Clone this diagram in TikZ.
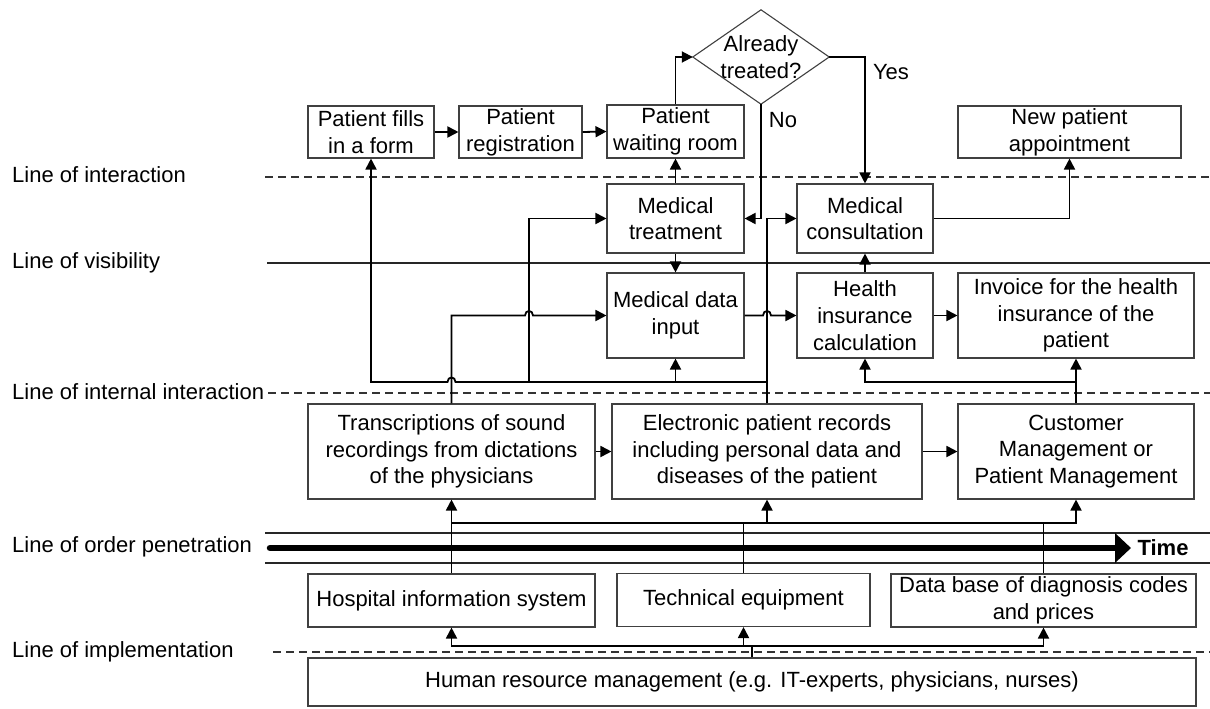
\documentclass[tikz,border=0pt]{standalone}
\usepackage{fontspec}
\setmainfont{Liberation Sans}
\usetikzlibrary{arrows.meta,calc}
\tikzset{
  box/.style={draw=black!75, line width=1.1pt, fill=white, inner sep=0pt, align=center},
  conn/.style={line width=1.8pt, black},
  arr/.style={conn, -{Triangle[length=11pt,width=11pt]}},
  dashline/.style={draw=black!80, line width=1.2pt, dash pattern=on 8pt off 5pt},
  thinline/.style={draw=black!85, line width=1.2pt},
  lab/.style={anchor=west, inner sep=0pt},
}
\begin{document}
\begin{tikzpicture}[x=1pt,y=-1pt,font=\fontsize{22}{26.7}\selectfont]
\useasboundingbox (0,0) rectangle (1210,709);

% layer lines
\draw[dashline] (265,177) -- (1210,177);
\draw[thinline] (267,263) -- (1210,263);
\draw[dashline] (268,393) -- (1210,393);
\draw[thinline] (265,533) -- (1210,533);
\draw[thinline] (265,563) -- (1210,563);
\draw[dashline] (273,652) -- (1210,652);
\draw[line width=6.5pt, line cap=round, -{Triangle[length=16pt,width=29pt]}] (270,548) -- (1131,548);
\node[font=\fontsize{22}{26.7}\selectfont\bfseries, inner sep=0pt] (time) at (1163,548) {Time};

% left labels
\node[lab] (l1) at (12,175) {Line of interaction};
\node[lab] (l2) at (12,263) {Line of visibility};
\node[lab] (l3) at (12,392) {Line of internal interaction};
\node[lab] (l4) at (12,547) {Line of order penetration};
\node[lab] (l5) at (12,652) {Line of implementation};

% boxes
\node[box, minimum width=126pt, minimum height=52pt] (fill) at (371,132) {Patient fills\\in a form};
\node[box, minimum width=123pt, minimum height=52pt] (reg) at (520.5,132) {Patient\\registration};
\node[box, minimum width=137pt, minimum height=53pt] (wait) at (675.5,131.5) {Patient\\waiting room};
\node[box, minimum width=223pt, minimum height=52pt] (appt) at (1069.5,132) {New patient\\appointment};
\node[inner sep=0pt, align=center, minimum width=136pt, minimum height=94pt] (dia) at (761,57) {Already\\treated?};
\draw[draw=black!75, line width=1.1pt] (dia.west) -- (dia.north) -- (dia.east) -- (dia.south) -- cycle;

\node[box, minimum width=137pt, minimum height=69pt] (treat) at (675.5,218.5) {Medical\\treatment};
\node[box, minimum width=136pt, minimum height=69pt] (consult) at (865,218.5) {Medical\\consultation};
\node[box, minimum width=137pt, minimum height=85pt] (input) at (675.5,315.5) {Medical data\\input};
\node[box, minimum width=136pt, minimum height=85pt] (calc) at (865,315.5) {Health\\insurance\\calculation};
\node[box, minimum width=236pt, minimum height=85pt] (invoice) at (1076,315.5) {Invoice for the health\\insurance of the\\patient};

\node[box, minimum width=287pt, minimum height=95pt] (trans) at (451.5,451.5) {Transcriptions of sound\\recordings from dictations\\of the physicians};
\node[box, minimum width=310pt, minimum height=95pt] (epr) at (767,451.5) {Electronic patient records\\including personal data and\\diseases of the patient};
\node[box, minimum width=236pt, minimum height=95pt] (cust) at (1076,451.5) {Customer\\Management or\\Patient Management};

\node[box, minimum width=287pt, minimum height=53pt] (his) at (451.5,600.5) {Hospital information system};
\node[box, minimum width=253pt, minimum height=53pt] (tech) at (743.5,600) {Technical equipment};
\node[box, minimum width=305pt, minimum height=53pt] (db) at (1043.5,600.5) {Data base of diagnosis codes\\and prices};
\node[box, minimum width=888pt, minimum height=48pt] (hr) at (752,682) {Human resource management (e.g. IT-experts, physicians, nurses)};

% helper levels
\coordinate (busA) at (0,382);
\coordinate (busB) at (0,523);
\coordinate (busC) at (0,646);
\coordinate (jy) at (0,315.5);
\coordinate (brT) at (529,382);

% top flow
\draw[arr] (fill.east) -- (reg.west);
\draw[arr] (reg.east) -- (wait.west);
\draw[arr] (wait.north) |- (dia.west);
\draw[arr] (dia.east) -| (consult.north);
\draw[arr] (dia.south) |- (treat.east);
\node[inner sep=0pt] (yes) at (891,72) {Yes};
\node[inner sep=0pt] (no) at (783,120) {No};
\draw[arr] (treat.north) -- (wait.south);
\draw[arr] (treat.south) -- (input.north);
\draw[arr] (consult.east) -| (appt.south);
\draw[arr] (calc.north) -- (consult.south);
\draw[arr] (input.east) -- (763,315.5) .. controls +(0,-6) and +(0,-6) .. (771,315.5) -- (calc.west);
\draw[arr] (calc.east) -- (invoice.west);

% middle flows
\draw[arr] (trans.east) -- (epr.west);
\draw[arr] (epr.east) -- (cust.west);
\draw[arr] (epr.north) |- (consult.west);
\draw[arr] (epr.north |- busA) -- (455.5,382) .. controls +(0,-6) and +(0,-6) .. (447.5,382) -- (fill.south |- busA) -- (fill.south);
\draw[arr] (brT) |- (treat.west);
\draw[arr] (input.south |- busA) -- (input.south);
\draw[arr] (trans.north) -- (trans.north |- jy) -- (525,315.5) .. controls +(0,-6) and +(0,-6) .. (533,315.5) -- (input.west);
\draw[arr] (cust.north) -- (invoice.south);
\draw[arr] (cust.north |- busA) -| (calc.south);

% lower flows
\draw[arr] (his.north) -- (trans.south);
\draw[arr] (his.north |- busB) -| (cust.south);
\draw[arr] (epr.south |- busB) -- (epr.south);
\draw[conn] (tech.north) -- (tech.north |- busB);
\draw[conn] (db.north) -- (db.north |- busB);
\draw[conn] (hr.north) -- (hr.north |- busC);
\draw[arr] (hr.north |- busC) -| (his.south);
\draw[arr] (hr.north |- busC) -| (db.south);
\draw[arr] (tech.south |- busC) -- (tech.south);
\end{tikzpicture}
\end{document}
